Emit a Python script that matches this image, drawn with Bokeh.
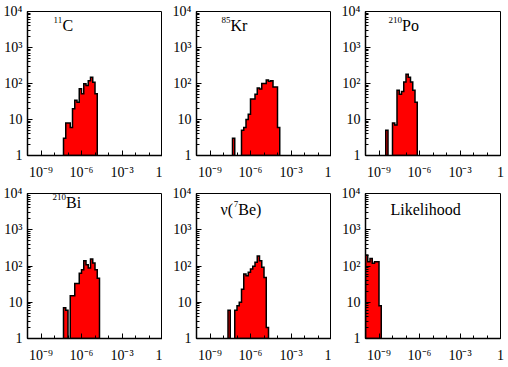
import numpy as np
from bokeh.plotting import figure
from bokeh.layouts import gridplot
from bokeh.models import FixedTicker, CustomJSTickFormatter, Label
from bokeh.embed import file_html
from bokeh.resources import INLINE

# ---------------- data ----------------
BINS_PER_DECADE = 6          # histogram bins are 1/6 decade wide, starting at 1e-10
X_MIN_EXP, X_MAX_EXP = -10, 0
Y_MIN, Y_MAX = 1, 1e4

X_MAJOR_TICKS = [1e-9, 1e-6, 1e-3, 1]
Y_MAJOR_TICKS = [1, 10, 100, 1000, 10000]

PANEL_LABELS = [
    [("11", True), ("C", False)],
    [("85", True), ("Kr", False)],
    [("210", True), ("Po", False)],
    [("210", True), ("Bi", False)],
    [("ν(", False), ("7", True), ("Be)", False)],
    [("Likelihood", False)],
]

C11_FIRST_BIN = 16
C11_COUNTS = [3, 8, 8, 6, 20, 34, 30, 71, 52, 98, 88, 120, 150, 109, 52]

KR85_FIRST_BIN = 16
KR85_COUNTS = [3, 0, 0, 0, 5, 6, 10, 14, 37, 37, 50, 75, 70, 100, 100, 125, 115, 120, 80, 80, 6]

PO210_FIRST_BIN = 9
PO210_COUNTS = [5, 0, 0, 8, 7, 65, 50, 60, 110, 180, 150, 110, 65, 30]

BI210_FIRST_BIN = 16
BI210_COUNTS = [7, 6, 0, 15, 15, 33, 33, 63, 79, 140, 109, 88, 156, 121, 79, 46]

BE7_FIRST_BIN = 14
BE7_COUNTS = [6, 0, 0, 6, 8, 10, 23, 60, 54, 67, 83, 98, 126, 190, 140, 92, 48, 2]

LIKE_FIRST_BIN = 0
LIKE_COUNTS = [200, 130, 160, 120, 130, 130, 8]

PANELS = [
    (PANEL_LABELS[0], C11_FIRST_BIN, C11_COUNTS),
    (PANEL_LABELS[1], KR85_FIRST_BIN, KR85_COUNTS),
    (PANEL_LABELS[2], PO210_FIRST_BIN, PO210_COUNTS),
    (PANEL_LABELS[3], BI210_FIRST_BIN, BI210_COUNTS),
    (PANEL_LABELS[4], BE7_FIRST_BIN, BE7_COUNTS),
    (PANEL_LABELS[5], LIKE_FIRST_BIN, LIKE_COUNTS),
]

# ---------------- styles ----------------
FONT = "Liberation Serif"
FILL = "#ff0000"
MAIN_PX = 16
SUP_PX = 9
SUP_RAISE = 6
EM = {"0": 0.5, "1": 0.5, "2": 0.5, "5": 0.5, "7": 0.5, "8": 0.5, "ν": 0.5, "(": 0.333,
      ")": 0.333, "C": 0.667, "K": 0.722, "r": 0.333, "P": 0.556, "o": 0.5, "B": 0.667,
      "i": 0.278, "e": 0.444}
# (px right of frame left, px of baseline below frame top)
LABEL_POS = [(26, 14), (25, 14), (23, 14), (25, 9), (24, 16), (25, 16)]

FRAME_W = 135
FRAME_H = [144, 145]
COL_BL = [26, 34, 34]
COL_BR = [0, 0, 6]
ROW_BT = [11, 10]
ROW_BB = [28, 28]

JS_FMT = """
const e = Math.round(Math.log10(tick));
if (e == 0) return "1";
if (e == 1) return "10";
const sup = {"-":"\u207b","0":"\u2070","1":"\u00b9","2":"\u00b2","3":"\u00b3","4":"\u2074",
             "5":"\u2075","6":"\u2076","7":"\u2077","8":"\u2078","9":"\u2079"};
return "10" + String(e).split("").map(c => sup[c]).join("");
"""


def outline_polygons(first_bin, counts):
    xs, ys = [], []
    run_x, run_y = None, None
    for i, c in enumerate(counts + [0]):
        lo = 10 ** (X_MIN_EXP + (first_bin + i) / BINS_PER_DECADE)
        hi = 10 ** (X_MIN_EXP + (first_bin + i + 1) / BINS_PER_DECADE)
        if c > 0:
            if run_x is None:
                run_x, run_y = [lo], [Y_MIN]
            run_x += [lo, hi]
            run_y += [c, c]
        else:
            if run_x is not None:
                run_x.append(run_x[-1])
                run_y.append(Y_MIN)
                xs.append(run_x)
                ys.append(run_y)
                run_x, run_y = None, None
    return xs, ys


def make_panel(idx, label_parts, first_bin, counts):
    r, c = divmod(idx, 3)
    p = figure(frame_width=FRAME_W, frame_height=FRAME_H[r],
               x_axis_type="log", y_axis_type="log",
               x_range=(10.0 ** X_MIN_EXP, 10.0 ** X_MAX_EXP), y_range=(Y_MIN, Y_MAX),
               output_backend="svg", toolbar_location=None,
               min_border_left=COL_BL[c], min_border_right=COL_BR[c],
               min_border_top=ROW_BT[r], min_border_bottom=ROW_BB[r])
    p.grid.visible = False
    p.outline_line_color = "black"
    p.outline_line_width = 1
    p.background_fill_color = "white"
    p.border_fill_color = "white"

    xs, ys = outline_polygons(first_bin, counts)
    p.patches(xs, ys, fill_color=FILL, line_color="black", line_width=1.5,
              line_join="miter")

    minor_x = [10.0 ** e for e in range(X_MIN_EXP, X_MAX_EXP + 1)]
    minor_y = [m * 10.0 ** d for d in range(0, 4) for m in range(1, 10)] + [1e4]
    p.xaxis.ticker = FixedTicker(ticks=X_MAJOR_TICKS, minor_ticks=minor_x)
    p.yaxis.ticker = FixedTicker(ticks=Y_MAJOR_TICKS, minor_ticks=minor_y)
    for ax in (p.xaxis, p.yaxis):
        ax.formatter = CustomJSTickFormatter(code=JS_FMT)
        ax.major_tick_in = 5
        ax.major_tick_out = 0
        ax.minor_tick_in = 3
        ax.minor_tick_out = 0
        ax.axis_line_width = 1.5
        ax.major_tick_line_width = 1
        ax.minor_tick_line_width = 1
        ax.major_label_text_font = FONT
        ax.major_label_text_font_size = "14px"
        ax.major_label_text_color = "black"
    p.xaxis.major_label_standoff = 9
    p.yaxis.major_label_standoff = 5

    px, py = LABEL_POS[idx]
    x_data = 10.0 ** X_MIN_EXP
    y_data = Y_MAX
    dx = px
    for text, sup in label_parts:
        size = SUP_PX if sup else MAIN_PX
        p.add_layout(Label(x=x_data, y=y_data, x_offset=dx,
                           y_offset=-py + (SUP_RAISE if sup else 0),
                           text=text, text_font=FONT, text_font_size=f"{size}px",
                           text_color="black", text_baseline="alphabetic"))
        dx += sum(EM.get(ch, 0.5) for ch in text) * size
    return p


figs = [make_panel(i, *panel) for i, panel in enumerate(PANELS)]
grid = gridplot([figs[0:3], figs[3:6]], toolbar_location=None)

open("out.html", "w").write(file_html(grid, INLINE))
